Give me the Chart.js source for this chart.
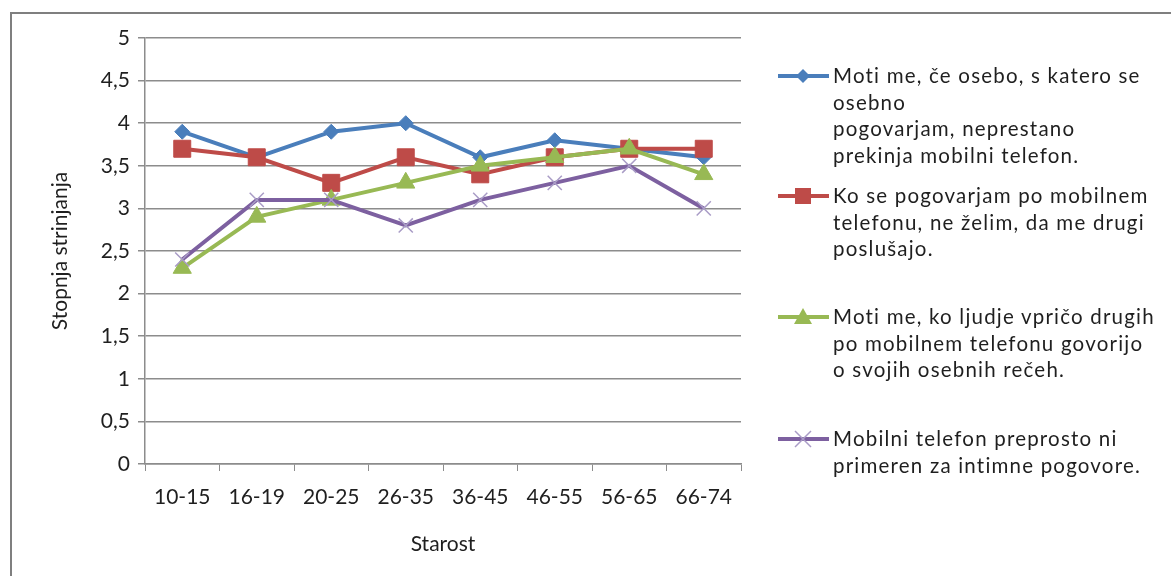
<!DOCTYPE html>
<html>
<head>
<meta charset="utf-8">
<script src="https://cdn.jsdelivr.net/npm/chart.js@4"></script>
<style>
  html,body{margin:0;padding:0;background:#fff;}
  #wrap{position:relative;width:1171px;height:576px;overflow:hidden;font-family:Lato,"Open Sans",sans-serif;}
  #frame{position:absolute;left:10px;top:12px;right:-10px;bottom:-10px;border-top:2px solid #7f7f7f;border-left:2px solid #7f7f7f;}
  #c{position:absolute;left:0;top:0;}
  .lg{position:absolute;left:778px;font-size:20.5px;line-height:26.5px;color:#1f1f1f;letter-spacing:1.2px;}
  .lg svg{position:absolute;left:0;top:0;}
  .lg span{display:block;margin-left:55px;white-space:nowrap;}
</style>
</head>
<body>
<div id="wrap">
  <div id="frame"></div>
  <canvas id="c" width="1171" height="576"></canvas>
  <div id="legend"></div>
</div>
<script>
const ageGroups = ['10-15','16-19','20-25','26-35','36-45','46-55','56-65','66-74'];

const seriesNames = [
  ['Moti me, če osebo, s katero se','osebno','pogovarjam, neprestano','prekinja mobilni telefon.'],
  ['Ko se pogovarjam po mobilnem','telefonu, ne želim, da me drugi','poslušajo.'],
  ['Moti me, ko ljudje vpričo drugih','po mobilnem telefonu govorijo','o svojih osebnih rečeh.'],
  ['Mobilni telefon preprosto ni','primeren za intimne pogovore.']
];

const interrupts  = [3.9, 3.6, 3.9, 4.0, 3.6, 3.8, 3.7, 3.6];
const overheard   = [3.7, 3.6, 3.3, 3.6, 3.4, 3.6, 3.7, 3.7];
const othersTalk  = [2.3, 2.9, 3.1, 3.3, 3.5, 3.6, 3.7, 3.4];
const notIntimate = [2.4, 3.1, 3.1, 2.8, 3.1, 3.3, 3.5, 3.0];

const colors = ['#4a7ebb','#be4b48','#98b954','#7d60a0'];
const markers = ['rectRot','rect','triangle','crossRot'];
const markerSize = [7.5, 12, 10.5, 10];
const legendTops = [62, 182, 303, 425];

function ds(i, data){
  return {
    label: seriesNames[i].join(' '),
    data: data,
    borderColor: colors[i],
    backgroundColor: colors[i],
    borderWidth: 4,
    pointStyle: markers[i],
    pointRadius: markerSize[i],
    pointBorderWidth: i===3 ? 1.5 : 1,
    pointBorderColor: i===3 ? '#a99cc6' : colors[i],
    pointBackgroundColor: colors[i],
    tension: 0,
    order: 3 - i
  };
}

const fam = 'Lato, "Open Sans", sans-serif';
const tickFont = {family:fam, size:21};

new Chart(document.getElementById('c'), {
  type:'line',
  data:{
    labels: ageGroups,
    datasets:[ds(0,interrupts), ds(1,overheard), ds(2,othersTalk), ds(3,notIntimate)]
  },
  options:{
    responsive:false,
    animation:false,
    layout:{padding:{left:44, top:38, right:430, bottom:15}},
    plugins:{legend:{display:false}, tooltip:{enabled:false}},
    scales:{
      x:{
        offset:true,
        grid:{offset:true, drawOnChartArea:false, drawTicks:true, tickLength:7, color:'#8c8c8c'},
        border:{color:'#8c8c8c', width:1.5},
        ticks:{font:tickFont, color:'#1f1f1f', padding:14},
        title:{display:true, text:'Starost', font:{family:fam, size:21}, color:'#1f1f1f', padding:{top:4,bottom:4}},
        afterFit(s){ s.height = 576 - 15 - 464; }
      },
      y:{
        min:0, max:5,
        ticks:{stepSize:0.5, font:tickFont, color:'#1f1f1f', padding:8,
          callback:v => String(v).replace('.', ',')},
        grid:{color:'#8c8c8c', lineWidth:1.5, tickLength:7},
        border:{color:'#8c8c8c', width:1.5},
        title:{display:true, text:'Stopnja strinjanja', font:{family:fam, size:21}, color:'#1f1f1f', padding:{top:4,bottom:4}},
        afterFit(s){ s.width = 145 - 44; }
      }
    }
  }
});

// legend on the right, wrapped as in the original
const lg = document.getElementById('legend');
seriesNames.forEach((lines, i) => {
  const d = document.createElement('div');
  d.className = 'lg';
  d.style.top = legendTops[i] + 'px';
  const c = colors[i];
  let mk = '';
  if (i===0) mk = `<polygon points="25,7 32,14 25,21 18,14" fill="${c}"/>`;
  if (i===1) mk = `<rect x="17" y="6" width="16" height="16" fill="${c}"/>`;
  if (i===2) mk = `<polygon points="25,5 34,21 16,21" fill="${c}"/>`;
  if (i===3) mk = `<path d="M17,6 L33,22 M33,6 L17,22" stroke="#a99cc6" stroke-width="1.5"/>`;
  d.innerHTML = `<svg width="52" height="28"><line x1="0" y1="14" x2="51" y2="14" stroke="${c}" stroke-width="4"/>${mk}</svg>` +
    lines.map(t => `<span>${t}</span>`).join('');
  lg.appendChild(d);
});
</script>
</body>
</html>
